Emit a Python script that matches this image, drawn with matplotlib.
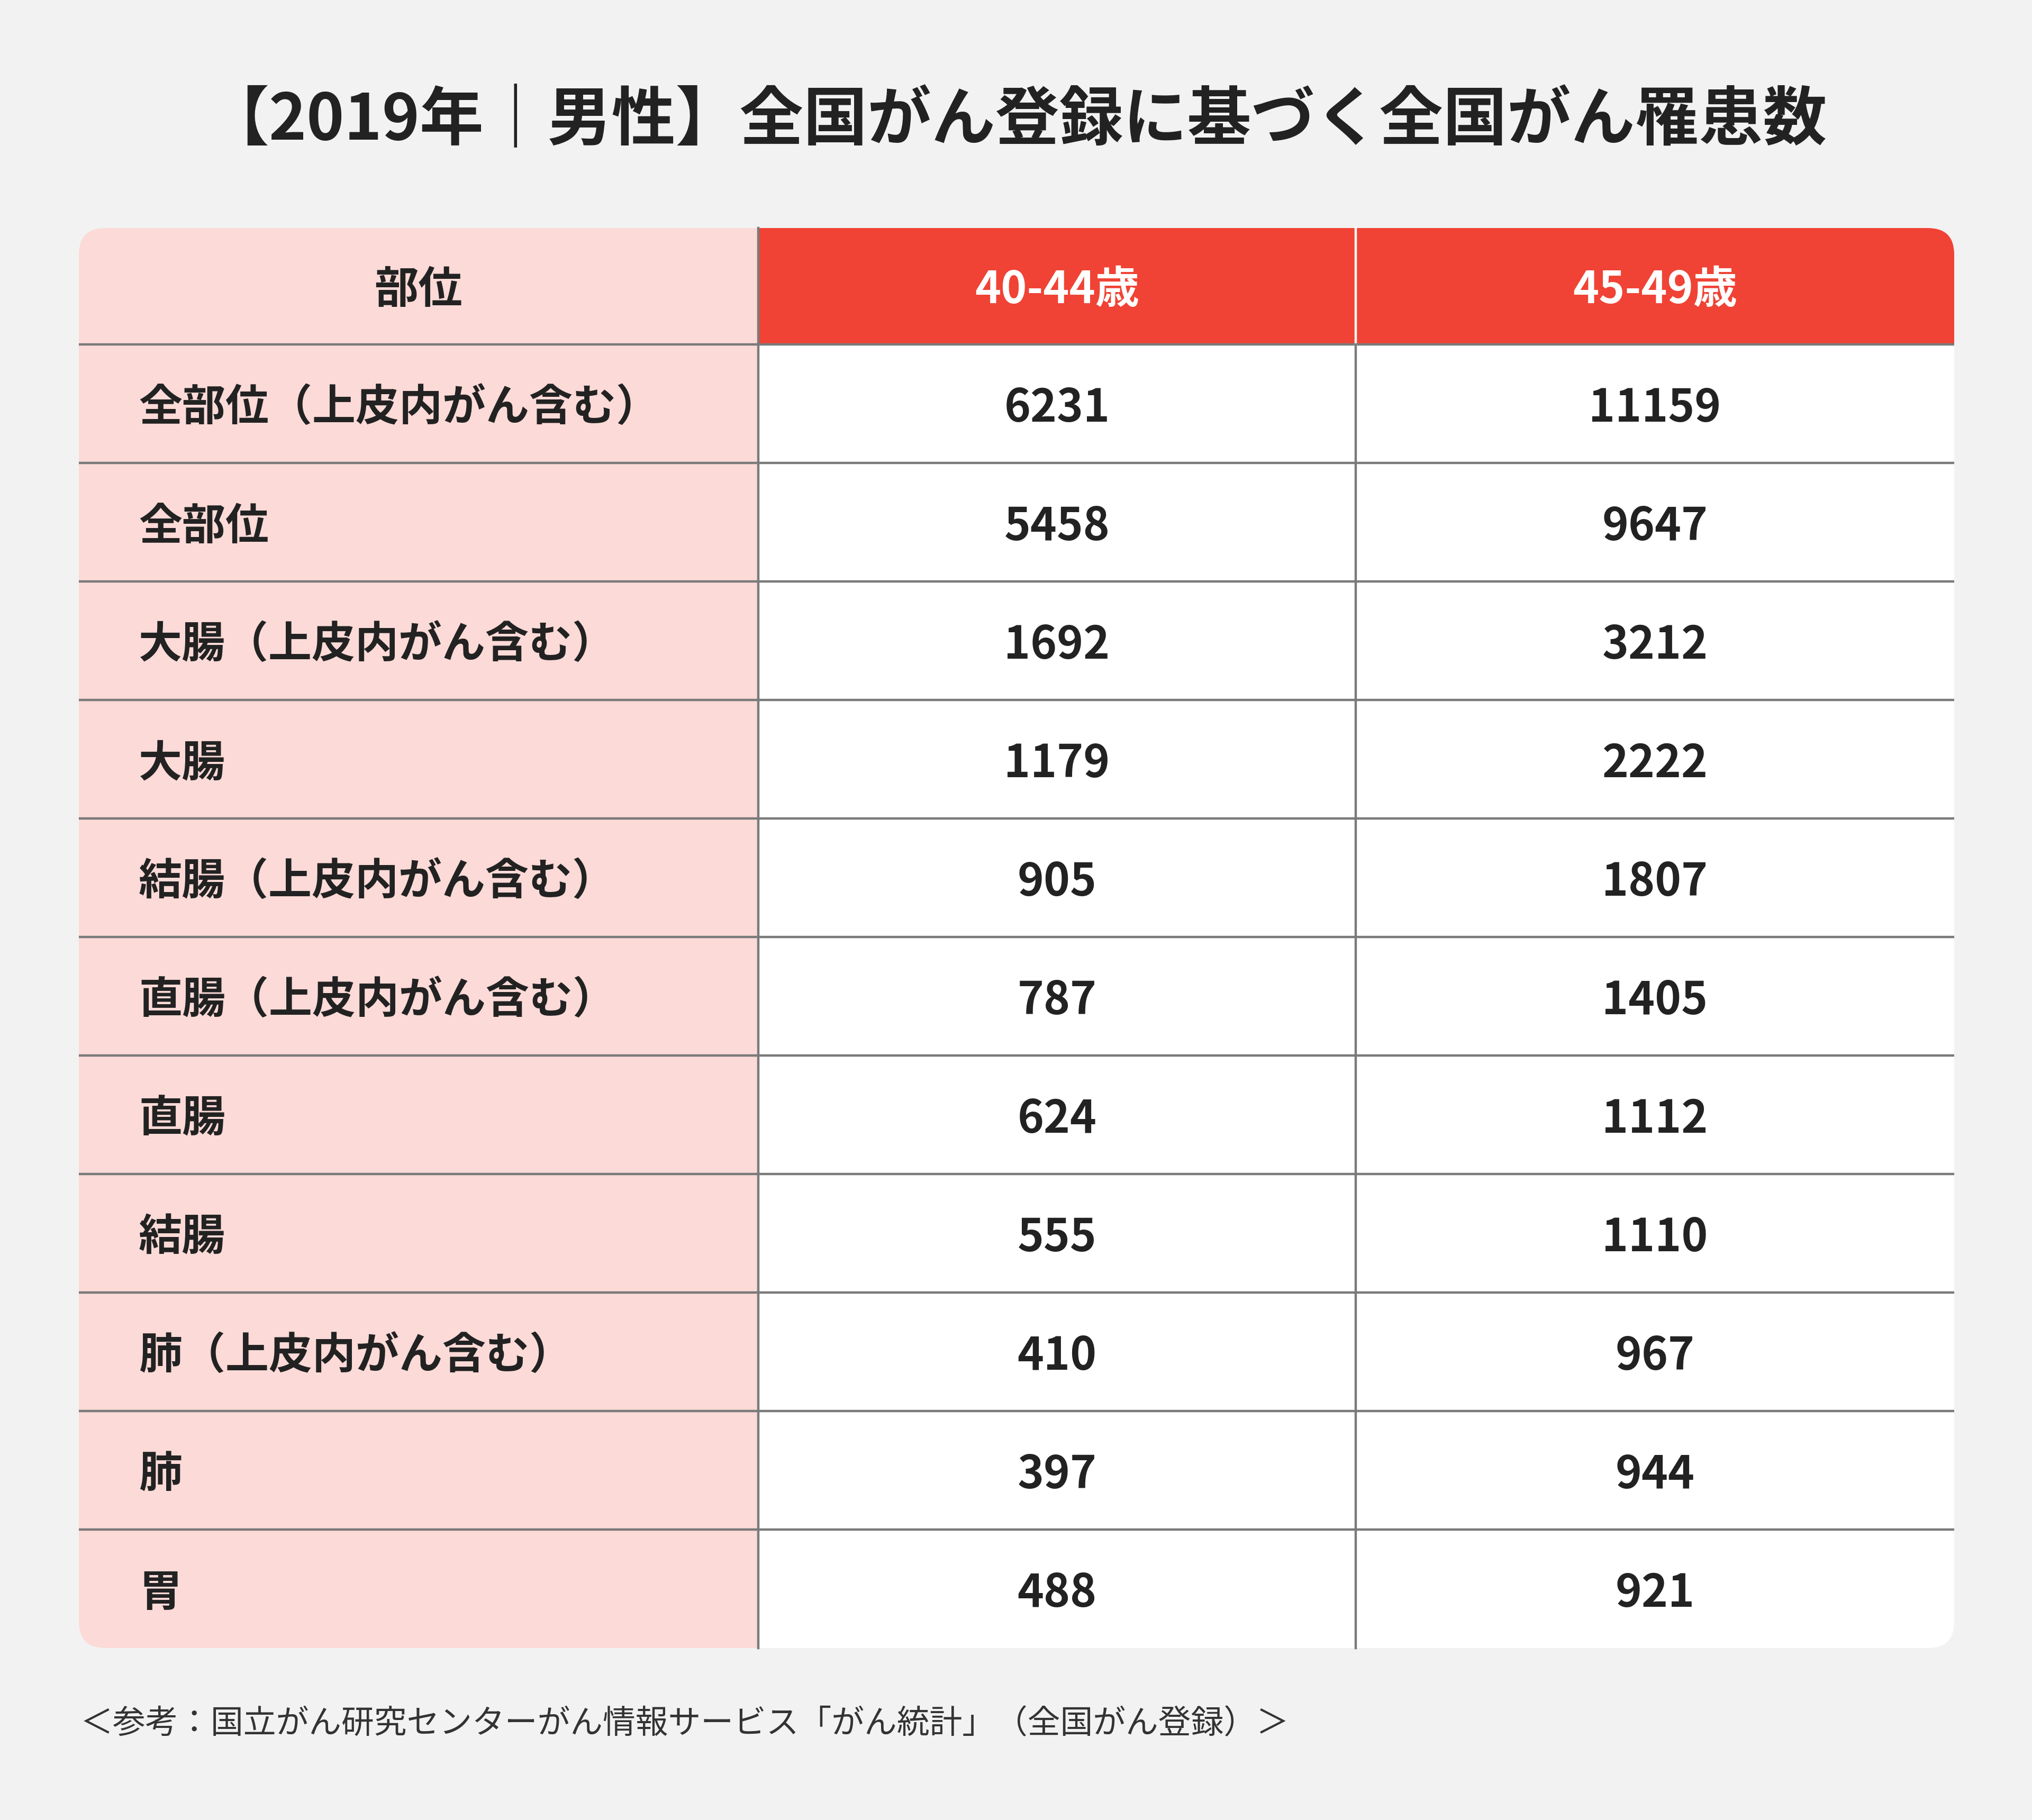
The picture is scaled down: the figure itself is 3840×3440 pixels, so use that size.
import matplotlib
matplotlib.use("Agg")
import matplotlib.pyplot as plt
from matplotlib.patches import FancyBboxPatch, Rectangle

plt.rcParams["font.family"] = ["Noto Sans CJK JP", "DejaVu Sans"]

TITLE = "【2019年｜男性】全国がん登録に基づく全国がん罹患数"
HEADERS = ["部位", "40-44歳", "45-49歳"]
SITES = [
    "全部位（上皮内がん含む）", "全部位", "大腸（上皮内がん含む）", "大腸",
    "結腸（上皮内がん含む）", "直腸（上皮内がん含む）", "直腸", "結腸",
    "肺（上皮内がん含む）", "肺", "胃",
]
AGE_40_44 = [6231, 5458, 1692, 1179, 905, 787, 624, 555, 410, 397, 488]
AGE_45_49 = [11159, 9647, 3212, 2222, 1807, 1405, 1112, 1110, 967, 944, 921]
SOURCE = "＜参考：国立がん研究センターがん情報サービス「がん統計」（全国がん登録）＞"

BG = "#f2f2f2"
PINK = "#fbdad7"
RED = "#f04335"
LINE = "#7a7a7a"
INK = "#222222"

W, H = 3840, 3440
LEFT, RIGHT, TOP, BOTTOM = 149, 3693, 431, 3115
HEAD_H = 220
SPLIT1, SPLIT2 = 1433, 2562


def main() -> None:
    fig = plt.figure(figsize=(W / 100, H / 100), dpi=100, facecolor=BG)
    ax = fig.add_axes([0, 0, 1, 1])
    ax.set_xlim(0, W)
    ax.set_ylim(H, 0)
    ax.axis("off")

    ax.text(W / 2, 228, TITLE, ha="center", va="center", fontsize=87,
            fontweight="bold", color=INK)

    outline = FancyBboxPatch((LEFT, TOP), RIGHT - LEFT, BOTTOM - TOP,
                             boxstyle="round,pad=0,rounding_size=50",
                             facecolor="white", edgecolor="none")
    ax.add_patch(outline)

    n = len(SITES)
    row_h = (BOTTOM - TOP - HEAD_H) / n
    fills = [
        Rectangle((LEFT, TOP), SPLIT1 - LEFT, BOTTOM - TOP, facecolor=PINK),
        Rectangle((SPLIT1, TOP), RIGHT - SPLIT1, HEAD_H, facecolor=RED),
    ]
    for p in fills:
        p.set_edgecolor("none")
        ax.add_patch(p)
        p.set_clip_path(outline)

    lw = 3.2
    for i in range(n):
        y = TOP + HEAD_H + i * row_h
        ax.plot([LEFT, RIGHT], [y, y], color=LINE, lw=lw, solid_capstyle="butt")
    ax.plot([SPLIT1, SPLIT1], [TOP, BOTTOM], color=LINE, lw=lw)
    ax.plot([SPLIT2, SPLIT2], [TOP, TOP + HEAD_H], color="white", lw=lw)
    ax.plot([SPLIT2, SPLIT2], [TOP + HEAD_H, BOTTOM], color=LINE, lw=lw)

    centers = [(LEFT + SPLIT1) / 2, (SPLIT1 + SPLIT2) / 2, (SPLIT2 + RIGHT) / 2]
    head_y = TOP + HEAD_H / 2 + 7
    for cx, label, col in zip(centers, HEADERS, [INK, "white", "white"]):
        ax.text(cx, head_y, label, ha="center", va="center", fontsize=60,
                fontweight="bold", color=col)

    for i, (site, a, b) in enumerate(zip(SITES, AGE_40_44, AGE_45_49)):
        cy = TOP + HEAD_H + (i + 0.5) * row_h + 9
        ax.text(262, cy, site, ha="left", va="center", fontsize=59,
                fontweight="bold", color=INK)
        ax.text(centers[1], cy, f"{a}", ha="center", va="center", fontsize=61,
                fontweight="bold", color=INK)
        ax.text(centers[2], cy, f"{b}", ha="center", va="center", fontsize=61,
                fontweight="bold", color=INK)

    ax.text(152, 3258, SOURCE, ha="left", va="center", fontsize=44.5, color="#333333")

    fig.savefig("out.png", dpi=100, facecolor=BG)
    plt.close(fig)


if __name__ == "__main__":
    main()
